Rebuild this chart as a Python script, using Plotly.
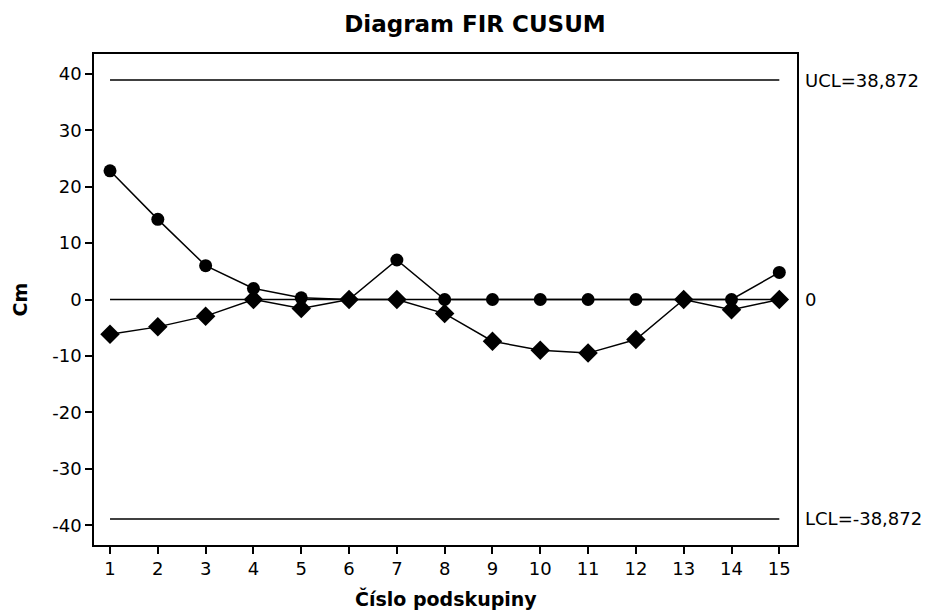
import plotly.graph_objects as go

# Subgroup numbers and the two one-sided CUSUM statistics
subgroups = list(range(1, 16))
upper_cusum = [22.8, 14.2, 6.0, 1.95, 0.3, 0.0, 7.0, 0.0, 0.0, 0.0, 0.0, 0.0, 0.0, 0.0, 4.8]
lower_cusum = [-6.15, -4.85, -2.95, 0.0, -1.6, 0.0, 0.0, -2.5, -7.4, -9.0, -9.5, -7.1, 0.0, -1.8, 0.0]

# Control limits and centre line
ucl = 38.872
center = 0.0
lcl = -38.872
limit_labels = ["UCL=38,872", "0", "LCL=-38,872"]

# Y-axis ticks (labels use a plain hyphen for negatives)
y_ticks = [-40, -30, -20, -10, 0, 10, 20, 30, 40]
y_tick_labels = ["-40", "-30", "-20", "-10", "0", "10", "20", "30", "40"]

FONT = "DejaVu Sans"
BLACK = "black"

fig = go.Figure()

# Horizontal control-limit lines spanning the first to last subgroup
for val in (ucl, center, lcl):
    fig.add_trace(go.Scatter(
        x=[subgroups[0], subgroups[-1]], y=[val, val],
        mode="lines", line=dict(color=BLACK, width=1.5),
        hoverinfo="skip", showlegend=False,
    ))

fig.add_trace(go.Scatter(
    x=subgroups, y=lower_cusum, mode="lines+markers",
    line=dict(color=BLACK, width=1.5),
    marker=dict(symbol="diamond", size=15, color=BLACK),
    showlegend=False,
))
fig.add_trace(go.Scatter(
    x=subgroups, y=upper_cusum, mode="lines+markers",
    line=dict(color=BLACK, width=1.5),
    marker=dict(symbol="circle", size=13, color=BLACK),
    showlegend=False,
))

for val, txt in zip((ucl, center, lcl), limit_labels):
    fig.add_annotation(
        x=1.0, xref="paper", y=val, yref="y", text=txt,
        xanchor="left", yanchor="middle", xshift=6, showarrow=False,
        font=dict(family=FONT, size=18, color=BLACK),
    )

# X-axis title placed just below the tick labels
fig.add_annotation(
    x=0.5, xref="paper", y=0, yref="paper", yshift=-53,
    text="<b>Číslo podskupiny</b>", xanchor="center", yanchor="middle",
    showarrow=False, font=dict(family=FONT, size=19, color=BLACK),
)

fig.update_layout(
    width=932, height=611,
    margin=dict(l=94, r=135, t=54, b=66),
    paper_bgcolor="white", plot_bgcolor="white",
    title=dict(
        text="<b>Diagram FIR CUSUM</b>", x=475 / 932, xanchor="center",
        y=1 - 24 / 611, yanchor="middle",
        font=dict(family=FONT, size=23, color=BLACK),
    ),
    font=dict(family=FONT, size=18, color=BLACK),
)

fig.update_xaxes(
    range=[0.665, 15.37], tickmode="array", tickvals=subgroups,
    ticks="outside", ticklen=7, tickwidth=1.5, tickcolor=BLACK,
    showline=True, linecolor=BLACK, linewidth=1.6, mirror=True,
    showgrid=False, zeroline=False,
    tickfont=dict(family=FONT, size=18, color=BLACK),
)
fig.update_yaxes(
    range=[-43.5, 43.5], tickmode="array",
    tickvals=y_ticks, ticktext=y_tick_labels,
    ticks="outside", ticklen=7, tickwidth=1.5, tickcolor=BLACK,
    showline=True, linecolor=BLACK, linewidth=1.6, mirror=True,
    showgrid=False, zeroline=False,
    tickfont=dict(family=FONT, size=18, color=BLACK),
    title=dict(text="<b>Cm</b>", standoff=20,
               font=dict(family=FONT, size=19, color=BLACK)),
)

fig.write_html("out.html")
